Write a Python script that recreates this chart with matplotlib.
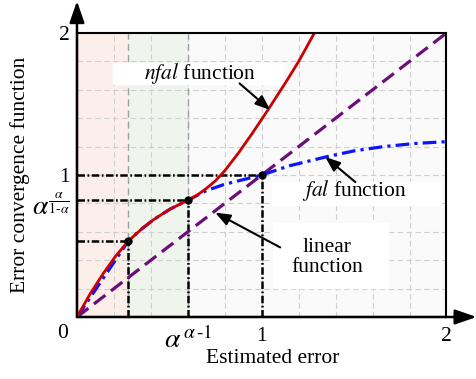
import numpy as np
import matplotlib
matplotlib.use('Agg')
import matplotlib.pyplot as plt
import matplotlib.transforms as mtransforms
from matplotlib.patches import Rectangle

plt.rcParams['font.family'] = ['Liberation Serif', 'DejaVu Serif']
plt.rcParams['mathtext.fontset'] = 'stix'

# characteristic points
e1, f1 = 0.278, 0.535          # end of linear zone
e2, f2 = 0.603, 0.824          # alpha^(alpha-1), alpha^(alpha/(1-alpha))
e3, f3 = 1.0, 1.0

# nfal curve
nfal_x = [0, 0.07, 0.143, 0.21, 0.278, 0.35, 0.414, 0.504, 0.603, 0.65, 0.70,
          0.75, 0.80, 0.874, 0.947, 1.037, 1.136, 1.20, 1.285]
nfal_y = [0, 0.16, 0.308, 0.43, 0.535, 0.62, 0.685, 0.76, 0.824, 0.858, 0.905,
          0.96, 1.03, 1.155, 1.29, 1.465, 1.665, 1.80, 2.0]

# fal curve
fal_x = [0, 0.278, 0.35, 0.414, 0.504, 0.603, 0.65, 0.70, 0.8, 1.0, 1.15, 1.353,
         1.5, 1.66, 1.83, 2.0]
fal_y = [0, 0.535, 0.62, 0.685, 0.76, 0.824, 0.856, 0.89, 0.935, 1.0, 1.065,
         1.129, 1.17, 1.2, 1.222, 1.235]

# linear function
lin_x = [0, 2]
lin_y = [0, 2]

fig = plt.figure(figsize=(4.77, 3.79), dpi=100)
ax = fig.add_axes([0.1614, 0.1636, 0.7746, 0.7493])
ax.set_xlim(0, 2)
ax.set_ylim(0, 2)

# background zones
ax.add_patch(Rectangle((0, 0), 2, 2, color='#fafafa', zorder=0))
ax.add_patch(Rectangle((0, 0), e1, 2, color='#fcefe9', zorder=0))
ax.add_patch(Rectangle((e1, 0), e2 - e1, 2, color='#eff5ec', zorder=0))

# grid
for g in np.arange(0.2, 2.0, 0.2):
    ax.axvline(g, color='#cfcfcf', lw=0.8, ls=(0, (5, 3)), zorder=1)
    ax.axhline(g, color='#cfcfcf', lw=0.8, ls=(0, (5, 3)), zorder=1)
for g in [e1, e2]:
    ax.axvline(g, color='#a0a0a0', lw=1.0, ls=(0, (5, 3)), zorder=1)

# white boxes behind the labels
ax.add_patch(Rectangle((0.195, 1.641), 0.922, 0.148, color='white', zorder=2))
ax.add_patch(Rectangle((1.057, 0.789), 0.91, 0.162, color='white', zorder=2))
ax.add_patch(Rectangle((1.062, 0.204), 0.624, 0.458, color='white', zorder=2))

# guide lines
dd = (0, (3, 1, 0.7, 1))
for ex, fy in [(e1, f1), (e2, f2), (e3, f3)]:
    ax.plot([0, ex], [fy, fy], color='black', lw=1.8, ls=dd, zorder=3)
    ax.plot([ex, ex], [0, fy], color='black', lw=1.8, ls=dd, zorder=3)

ax.plot(lin_x, lin_y, color='#6b0f78', lw=2.3, ls=(0, (4.5, 2.2)), zorder=4)
ax.plot(fal_x, fal_y, color='#0a14ff', lw=2.3, ls=(0, (4.3, 1.6, 1, 1.6)), zorder=4)
ax.plot(nfal_x, nfal_y, color='#cc0000', lw=2.0, zorder=5)
ax.plot([e1, e2, e3], [f1, f2, f3], 'o', color='black', ms=5, zorder=6)

# labels and arrows
ax.text(0.667, 1.715, r'$\mathit{nfal}$ function', fontsize=15.5,
        ha='center', va='center', zorder=6)
ax.text(1.5, 0.89, r'$\mathit{fal}$ function', fontsize=15.5,
        ha='center', va='center', zorder=6)
ax.text(1.355, 0.42, 'linear\nfunction', fontsize=15.5, ha='center',
        va='center', linespacing=1.1, zorder=6)

arw = dict(arrowstyle='-|>,head_length=0.9,head_width=0.35', color='black',
           lw=1.5, shrinkA=0, shrinkB=0)
ax.annotate('', xy=(1.046, 1.458), xytext=(0.88, 1.645), arrowprops=arw, zorder=7)
ax.annotate('', xy=(1.344, 1.127), xytext=(1.507, 0.95), arrowprops=arw, zorder=7)
ax.annotate('', xy=(0.748, 0.735), xytext=(1.10, 0.49), arrowprops=arw, zorder=7)

# axes with arrow heads
for s in ax.spines.values():
    s.set_linewidth(1.5)
    s.set_zorder(8)
ax_arw = dict(arrowstyle='-|>,head_length=1.3,head_width=0.45', color='black',
              lw=1.8, shrinkA=0, shrinkB=0)
ax.annotate('', xy=(0, 2.225), xytext=(0, 0), arrowprops=ax_arw,
            annotation_clip=False)
ax.annotate('', xy=(2.163, 0), xytext=(0, 0), arrowprops=ax_arw,
            annotation_clip=False)

ax.set_xticks([e2, 1, 2])
ax.set_xticklabels([r'$\alpha^{\,\alpha\,\text{-}1}$', '1', '2'])
ax.set_yticks([f2, 1, 2])
ax.set_yticklabels([r'$\alpha^{\frac{\alpha}{1\text{-}\alpha}}$', '1', '2'])
ax.tick_params(length=0, labelsize=15.5)
ax.tick_params(axis='x', pad=7)
ax.tick_params(axis='y', pad=5)
ax.get_xticklabels()[0].set_fontsize(20)
ylab = ax.get_yticklabels()[0]
ylab.set_fontsize(20)
# sit the alpha base a little below its tick
ylab.set_transform(ylab.get_transform() +
                   mtransforms.ScaledTranslation(0, -0.05, fig.dpi_scale_trans))
ax.text(-0.076, -0.113, '0', fontsize=15.5, ha='center', va='center')

ax.set_xlabel('Estimated error', fontsize=15.5)
ax.set_ylabel('Error convergence function', fontsize=15.5)
ax.xaxis.set_label_coords(0.53, -0.113)
ax.yaxis.set_label_coords(-0.127, 0.5)

fig.savefig('out.png', dpi=100)
